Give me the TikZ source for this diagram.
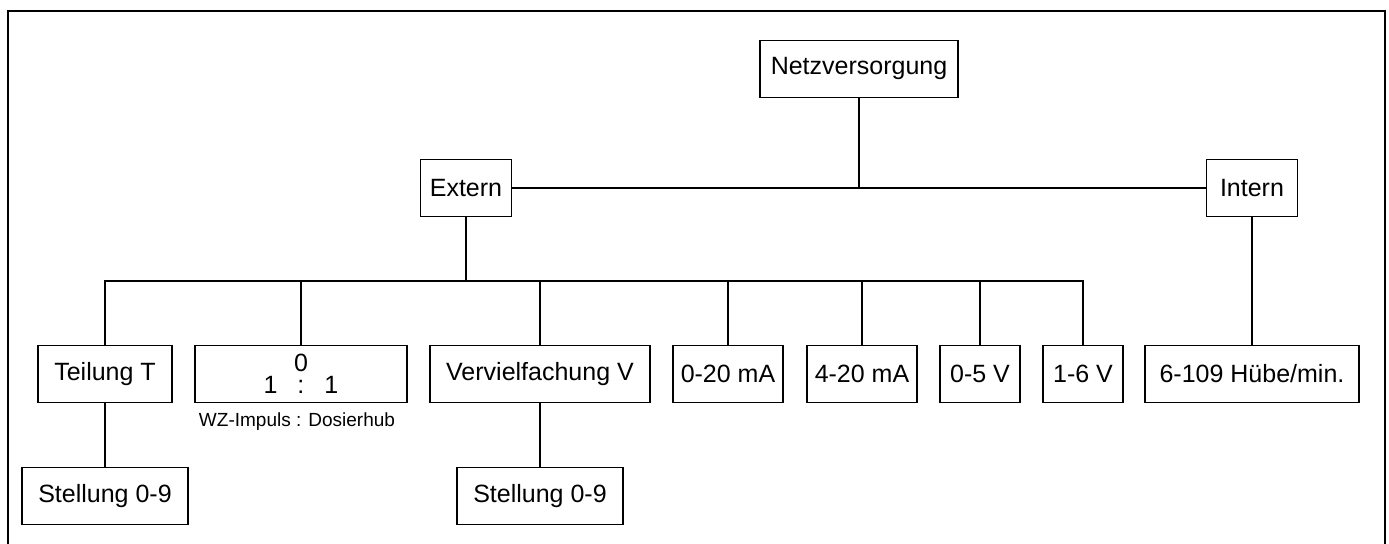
\documentclass[tikz,border=0pt]{standalone}
\usepackage{fontspec}
\setmainfont{Liberation Sans}
\usetikzlibrary{calc}
\tikzset{
  kasten/.style={draw, line width=0.7pt, minimum height=28.5pt, inner sep=0pt,
    font=\fontsize{12.5}{14}\selectfont},
  linie/.style={line width=0.55pt}
}
\newcommand{\zeile}{374}

\begin{document}
\begin{tikzpicture}[x=0.5pt,y=-0.5pt]
 \useasboundingbox (0,0) rectangle (1389,544);
 % Rahmen
 \draw[line width=1.3pt] (8,560) -- (8,11) -- (1385,11) -- (1385,560);

 % oberste Ebene
 \node[kasten, minimum width=99pt] (netz) at (859,69) {Netzversorgung};
 \node[kasten, minimum width=45.5pt] (extern) at (466,188) {Extern};
 \node[kasten, minimum width=45.5pt] (intern) at (1252,188) {Intern};

 % Betriebsarten
 \node[kasten, minimum width=67pt] (teilung) at (105,\zeile) {Teilung T};
 \node[kasten, minimum width=106pt, align=center, font=\fontsize{12.5}{11}\selectfont]
   (verh) at (301,\zeile) {0\\1\hspace{10pt}:\hspace{10pt}1};
 \node[kasten, minimum width=110pt] (vervielf) at (540,\zeile) {Vervielfachung V};
 \node[kasten, minimum width=55pt] (ma020) at (728,\zeile) {0-20 mA};
 \node[kasten, minimum width=55pt] (ma420) at (862,\zeile) {4-20 mA};
 \node[kasten, minimum width=40pt] (v05) at (980,\zeile) {0-5 V};
 \node[kasten, minimum width=40pt] (v16) at (1083,\zeile) {1-6 V};
 \node[kasten, minimum width=107pt] (hub) at (1252,\zeile) {6-109 Hübe/min.};
 \node[font=\fontsize{9.5}{11}\selectfont] (wz) at (297,422) {WZ-Impuls : Dosierhub};

 \node[kasten, minimum width=83pt] (stell1) at (105,496) {Stellung 0-9};
 \node[kasten, minimum width=83pt] (stell2) at (540,496) {Stellung 0-9};

 \coordinate (bus) at (466,281);

 % Verbindungen
 \draw[linie] (extern.east) -- (intern.west);
 \draw[linie] (netz.south) -- (netz.south |- extern.east);
 \draw[linie] (extern.south) -- (bus);
 \draw[linie] (teilung.north) |- (bus) -| (v16.north);
 \foreach \n in {verh,vervielf,ma020,ma420,v05}
   \draw[linie] (\n.north) -- (\n.north |- bus);
 \draw[linie] (intern.south) -- (hub.north);
 \draw[linie] (teilung.south) -- (stell1.north);
 \draw[linie] (vervielf.south) -- (stell2.north);

\end{tikzpicture}
\end{document}
